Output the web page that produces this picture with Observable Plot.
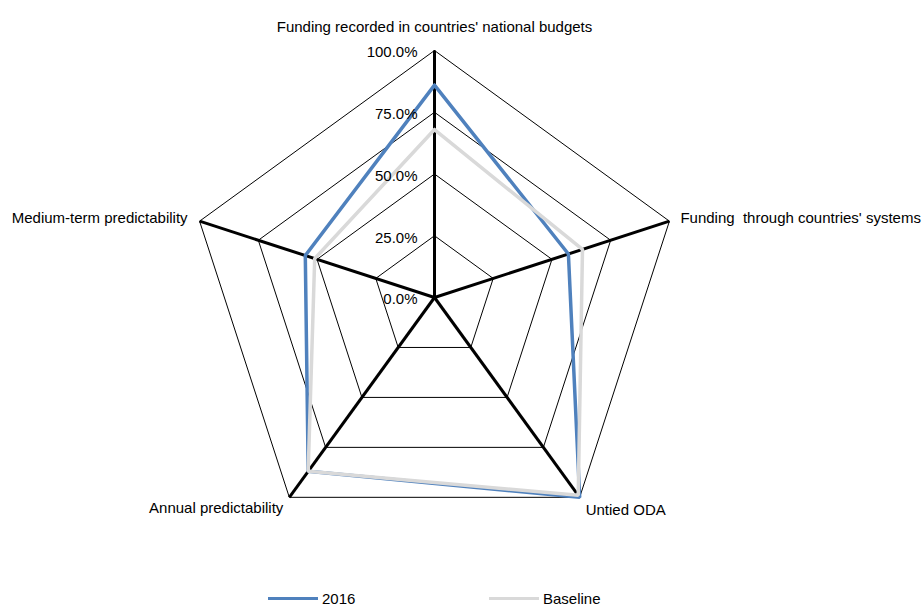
<!DOCTYPE html>
<html>
<head>
<meta charset="utf-8">
<script src="https://cdn.jsdelivr.net/npm/d3@7"></script>
<script src="https://cdn.jsdelivr.net/npm/@observablehq/plot@0.6"></script>
<style>
  body { margin: 0; background: #fff; font-family: "Liberation Sans", Arial, sans-serif; }
  #wrap { position: relative; width: 923px; height: 607px; }
  #legend { position: absolute; left: 0; top: 588px; width: 923px; height: 20px; font-size: 15px; color: #000; }
  .item { position: absolute; top: 0; display: flex; align-items: center; height: 20px; }
  .swatch { width: 50px; height: 3px; margin-right: 4px; }
</style>
</head>
<body>
<div id="wrap">
  <div id="chart"></div>
  <div id="legend"></div>
</div>
<script>
// Radar chart axes, clockwise from the top
const axes = [
  "Funding recorded in countries' national budgets",
  "Funding  through countries' systems",
  "Untied ODA",
  "Annual predictability",
  "Medium-term predictability"
];
const series = ["2016", "Baseline"];
const values2016 = [0.86, 0.57, 1.0, 0.87, 0.55];
const valuesBaseline = [0.68, 0.63, 0.99, 0.87, 0.51];
const gridLevels = [0.25, 0.5, 0.75, 1.0];
const tickValues = [0, 0.25, 0.5, 0.75, 1.0];
const tickLabels = ["0.0%", "25.0%", "50.0%", "75.0%", "100.0%"];
const colors = {"2016": "#4f81bd", "Baseline": "#d9d9d9"};

const n = axes.length;
const angle = i => (2 * Math.PI * i) / n;
const px = (i, r) => r * Math.sin(angle(i));
const py = (i, r) => r * Math.cos(angle(i));

// closed polygon rings for the grid
const rings = gridLevels.flatMap(level =>
  d3.range(n + 1).map(k => ({level, x: px(k % n, level), y: py(k % n, level)})));

// spokes from the centre to each vertex
const spokes = axes.map((name, i) => ({name, x2: px(i, 1), y2: py(i, 1)}));

// series polygons
const seriesData = [["2016", values2016], ["Baseline", valuesBaseline]].flatMap(([s, vals]) =>
  d3.range(n + 1).map(k => ({series: s, x: px(k % n, vals[k % n]), y: py(k % n, vals[k % n])})));

const ticks = tickValues.map((v, i) => ({label: tickLabels[i], x: 0, y: v}));

// axis label placement
const labelStyle = [
  {textAnchor: "middle", dx: 0, dy: -23},
  {textAnchor: "start", dx: 11, dy: -3},
  {textAnchor: "start", dx: 6, dy: 13},
  {textAnchor: "end", dx: -6, dy: 11},
  {textAnchor: "end", dx: -12, dy: -3}
];
const axisLabels = axes.map((name, i) =>
  Plot.text([{name, x: px(i, 1), y: py(i, 1)}], {
    x: "x", y: "y", text: "name", fill: "#000", fontSize: 15,
    ...labelStyle[i]
  }));

const chart = Plot.plot({
  width: 923,
  height: 585,
  margin: 0,
  style: {fontFamily: "'Liberation Sans', Arial, sans-serif", background: "#fff"},
  x: {domain: [-1, 1], range: [187, 681], axis: null},
  y: {domain: [-1, 1], range: [544, 50], axis: null},
  marks: [
    Plot.line(rings, {x: "x", y: "y", z: "level", stroke: "#000", strokeWidth: 1}),
    Plot.link(spokes, {x1: 0, y1: 0, x2: "x2", y2: "y2", stroke: "#000", strokeWidth: 3}),
    Plot.line(seriesData, {x: "x", y: "y", z: "series", stroke: d => colors[d.series], strokeWidth: 3.5, strokeLinejoin: "miter"}),
    Plot.text(ticks, {x: "x", y: "y", text: "label", textAnchor: "end", dx: -17, dy: 2, fontSize: 15, fill: "#000"}),
    ...axisLabels
  ]
});
document.getElementById("chart").appendChild(chart);

// legend below the chart
const legend = document.getElementById("legend");
const legendLeft = {"2016": 268, "Baseline": 489};
series.forEach(s => {
  const item = document.createElement("div");
  item.className = "item";
  item.style.left = legendLeft[s] + "px";
  const sw = document.createElement("div");
  sw.className = "swatch";
  sw.style.background = colors[s];
  const t = document.createElement("span");
  t.textContent = s;
  item.appendChild(sw);
  item.appendChild(t);
  legend.appendChild(item);
});
</script>
</body>
</html>
